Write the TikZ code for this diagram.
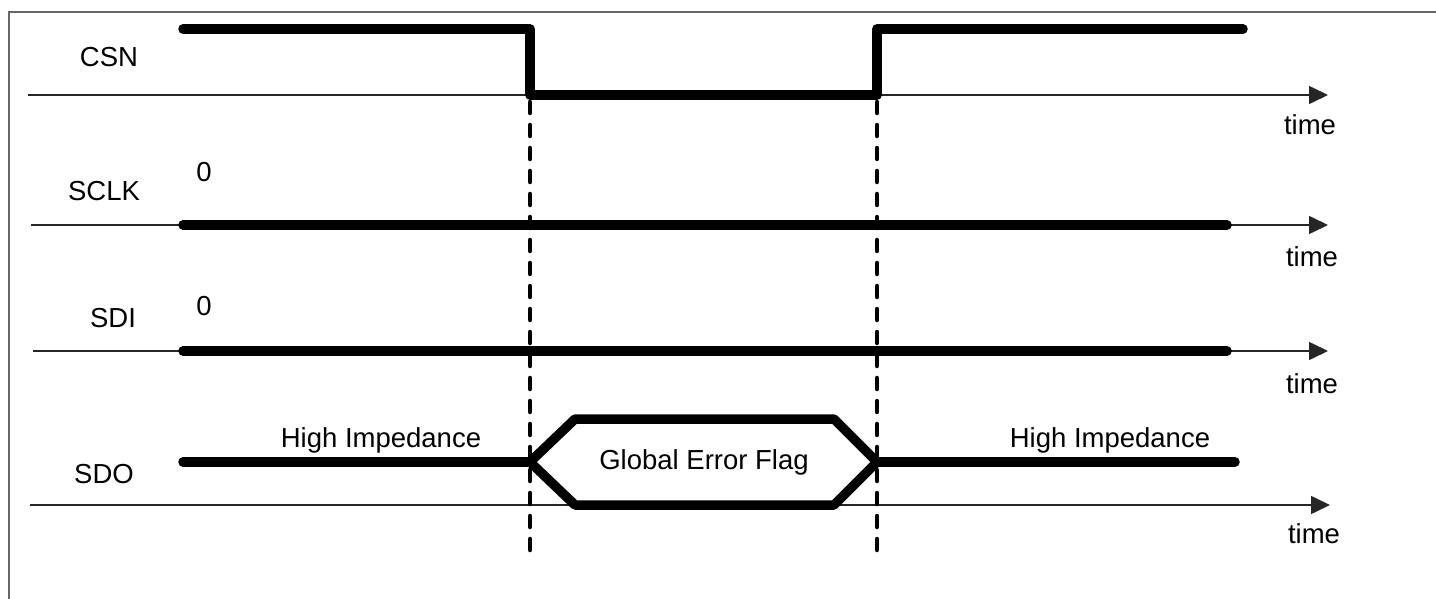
\documentclass[tikz,border=0pt]{standalone}
\usepackage{fontspec}
\setmainfont{Liberation Sans}
\usetikzlibrary{arrows.meta}
\begin{document}
\begin{tikzpicture}[x=1pt,y=-1pt,
  lbl/.style={inner sep=0pt,font=\fontsize{27.5}{32}\selectfont},
  axis/.style={line width=1.6pt,draw=black!85,-{Triangle[length=19pt,width=18pt]}},
  sig/.style={line width=9.5pt,line cap=round,line join=round},
  guide/.style={line width=4.5pt,line cap=round,dash pattern=on 11pt off 12pt},
  frame/.style={line width=2.4pt,draw=black!60}]
\useasboundingbox (0,0) rectangle (1436,599);
% frame
\coordinate (fb) at (9,599);
\coordinate (ftl) at (9,12);
\coordinate (ftr) at (1436,12);
\draw[frame] (fb) -- (ftl) -- (ftr);
% axes
\coordinate (a1s) at (28,95);   \coordinate (a1e) at (1328,95);
\coordinate (a2s) at (31,225);  \coordinate (a2e) at (1328,225);
\coordinate (a3s) at (33,351);  \coordinate (a3e) at (1328,351);
\coordinate (a4s) at (30,505);  \coordinate (a4e) at (1330,505);
\draw[axis] (a1s) -- (a1e);
\draw[axis] (a2s) -- (a2e);
\draw[axis] (a3s) -- (a3e);
\draw[axis] (a4s) -- (a4e);
% labels
\node[lbl] (csn) at (109,57) {CSN};
\node[lbl] (sclk) at (104,191) {SCLK};
\node[lbl] (sdi) at (113,318) {SDI};
\node[lbl] (sdo) at (104,474) {SDO};
\node[lbl] (z1) at (204,172) {0};
\node[lbl] (z2) at (204,306) {0};
\node[lbl] (t1) at (1310,125) {time};
\node[lbl] (t2) at (1312,257) {time};
\node[lbl] (t3) at (1312,384) {time};
\node[lbl] (t4) at (1314,534) {time};
\node[lbl] (hz1) at (381,440) {High Impedance};
\node[lbl] (hz2) at (1110,440) {High Impedance};
\node[lbl] (gef) at (704,462) {Global Error Flag};
% CSN waveform
\coordinate (c0) at (183,29);
\coordinate (c1) at (530,29);
\coordinate (c2) at (530,95);
\coordinate (c3) at (877,95);
\coordinate (c4) at (877,29);
\coordinate (c5) at (1243,29);
\draw[sig] (c0) -- (c1) -- (c2) -- (c3) -- (c4) -- (c5);
% SCLK, SDI
\coordinate (k0) at (183,225); \coordinate (k1) at (1227,225);
\draw[sig] (k0) -- (k1);
\coordinate (d0) at (183,351); \coordinate (d1) at (1227,351);
\draw[sig] (d0) -- (d1);
% SDO
\coordinate (o0) at (183,462);
\coordinate (hl) at (530,462);
\coordinate (htl) at (575,419);
\coordinate (htr) at (834,419);
\coordinate (hr) at (877,462);
\coordinate (hbr) at (834,505);
\coordinate (hbl) at (575,505);
\coordinate (o1) at (1235,462);
\draw[sig] (o0) -- (hl);
\draw[sig] (hl) -- (htl) -- (htr) -- (hr) -- (hbr) -- (hbl) -- cycle;
\draw[sig] (hr) -- (o1);
% guides
\coordinate (g1s) at (530,102); \coordinate (g1e) at (530,556);
\coordinate (g2s) at (877,102); \coordinate (g2e) at (877,556);
\draw[guide] (g1s) -- (g1e);
\draw[guide] (g2s) -- (g2e);
\end{tikzpicture}
\end{document}
